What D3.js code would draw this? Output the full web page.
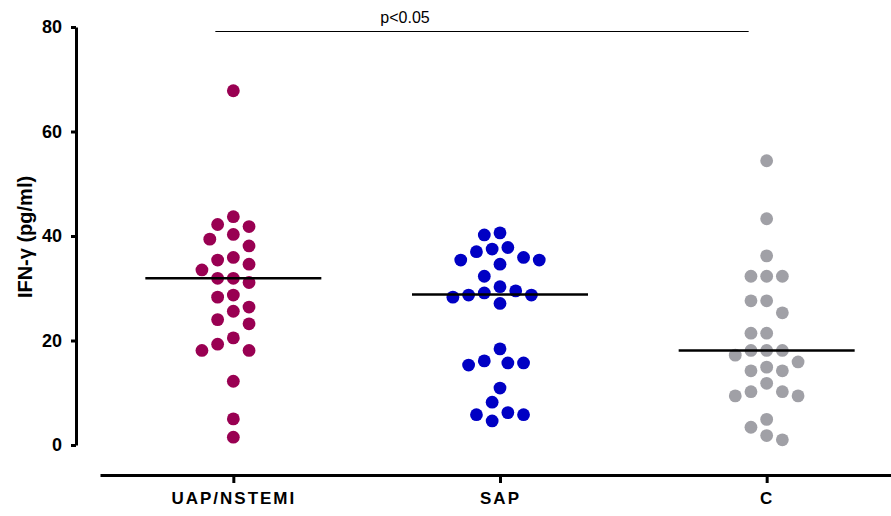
<!DOCTYPE html>
<html>
<head>
<meta charset="utf-8">
<script src="https://cdn.jsdelivr.net/npm/d3@7"></script>
<style>
  body { margin: 0; background: #fff; }
  svg { display: block; }
  text { font-family: Arial, "Liberation Sans", sans-serif; }
</style>
</head>
<body>
<div id="chart"></div>
<script>

// Data
const groups = ["UAP/NSTEMI", "SAP", "C"];

const uapValues = [67.8, 43.7, 41.8, 42.2, 39.4, 40.3, 38.1, 35.9, 35.4, 34.6, 33.5, 31.9, 31.9, 31.1,
                   28.7, 28.3, 26.4, 25.6, 23.2, 24.0, 20.5, 18.1, 18.1, 19.3, 12.2, 5.0, 1.5];
const sapValues = [40.2, 40.6, 37.8, 37.5, 37.0, 35.4, 35.9, 35.4, 34.6, 32.3, 29.5, 30.3, 28.7, 28.3,
                   28.7, 29.1, 27.1, 18.4, 15.7, 15.3, 15.7, 16.1, 10.9, 8.2, 5.8, 5.8, 6.2, 4.6];
const cValues   = [54.4, 43.3, 36.2, 32.3, 32.3, 32.3, 27.6, 27.6, 25.3, 21.4, 21.4, 18.1, 18.1, 18.1,
                   17.2, 15.9, 14.2, 14.2, 14.9, 11.8, 10.2, 9.4, 9.4, 10.2, 4.9, 3.4, 1.0, 1.8];

const medianValues = [31.9, 28.8, 18.1];
const yTicks = [0, 20, 40, 60, 80];
const sigLabel = "p<0.05";
const sigPair = ["UAP/NSTEMI", "C"];

const seriesValues = [uapValues, sapValues, cValues];
const colors = ["#990052", "#0000c4", "#a0a0a6"];

const width = 891, height = 516;

const svg = d3.select("#chart")
  .append("svg")
  .attr("width", width)
  .attr("height", height);

// Scales
const y = d3.scaleLinear()
  .domain([0, 80])
  .range([445, 27]);

const x = d3.scalePoint()
  .domain(groups)
  .range([100, 900])
  .padding(0.5);

// Y axis
const yAxis = svg.append("g")
  .attr("transform", "translate(76,0)")
  .call(d3.axisLeft(y).tickValues(yTicks).tickSize(5).tickSizeOuter(0).tickPadding(9));
yAxis.selectAll("path, line").attr("stroke", "#000").attr("stroke-width", 3);
yAxis.selectAll("text")
  .attr("font-size", "18px")
  .attr("font-weight", "bold")
  .attr("fill", "#000")
  .attr("font-family", "Arial, 'Liberation Sans', sans-serif");

svg.append("text")
  .attr("transform", "translate(32,237) rotate(-90)")
  .attr("text-anchor", "middle")
  .attr("font-size", "20px")
  .attr("font-weight", "bold")
  .text("IFN-γ (pg/ml)");

// X axis
const xAxis = svg.append("g")
  .attr("transform", "translate(0,475)")
  .call(d3.axisBottom(x).tickSize(8).tickSizeOuter(0).tickPadding(9));
xAxis.selectAll("path, line").attr("stroke", "#000").attr("stroke-width", 3);
xAxis.selectAll("text")
  .attr("font-size", "17px")
  .attr("font-weight", "bold")
  .attr("letter-spacing", "2px")
  .attr("fill", "#000")
  .attr("font-family", "Arial, 'Liberation Sans', sans-serif");

// simple beeswarm: place each dot at the nearest free slot beside the centre
const r = 6.4, slot = 7.85, gap = 15.5;
function swarm(values, cx) {
  const pts = values.map(v => ({ v: v, y: y(v) })).sort((a, b) => a.y - b.y);
  const placed = [];
  pts.forEach(p => {
    for (let k = 0; k < 40; k++) {
      const off = k === 0 ? 0 : (k % 2 ? -1 : 1) * Math.ceil(k / 2) * slot;
      const free = placed.every(q => Math.hypot(q.x - (cx + off), q.y - p.y) >= gap);
      if (free) { p.x = cx + off; break; }
    }
    placed.push(p);
  });
  return placed;
}

// Dots
groups.forEach((g, i) => {
  svg.append("g")
    .selectAll("circle")
    .data(swarm(seriesValues[i], x(g)))
    .enter()
    .append("circle")
      .attr("cx", d => d.x)
      .attr("cy", d => d.y)
      .attr("r", r)
      .attr("fill", colors[i]);
});

// Median lines
svg.append("g")
  .selectAll("line")
  .data(groups)
  .enter()
  .append("line")
    .attr("x1", d => x(d) - 88)
    .attr("x2", d => x(d) + 88)
    .attr("y1", (d, i) => y(medianValues[i]))
    .attr("y2", (d, i) => y(medianValues[i]))
    .attr("stroke", "#000")
    .attr("stroke-width", 2.5);

// Significance bar
const sigY = 31.5;
svg.append("line")
  .attr("x1", x(sigPair[0]) - 18)
  .attr("x2", x(sigPair[1]) - 18)
  .attr("y1", sigY)
  .attr("y2", sigY)
  .attr("stroke", "#000")
  .attr("stroke-width", 1);

svg.append("text")
  .attr("x", 405)
  .attr("y", sigY - 8.5)
  .attr("text-anchor", "middle")
  .attr("font-size", "16px")
  .text(sigLabel);

</script>
</body>
</html>
